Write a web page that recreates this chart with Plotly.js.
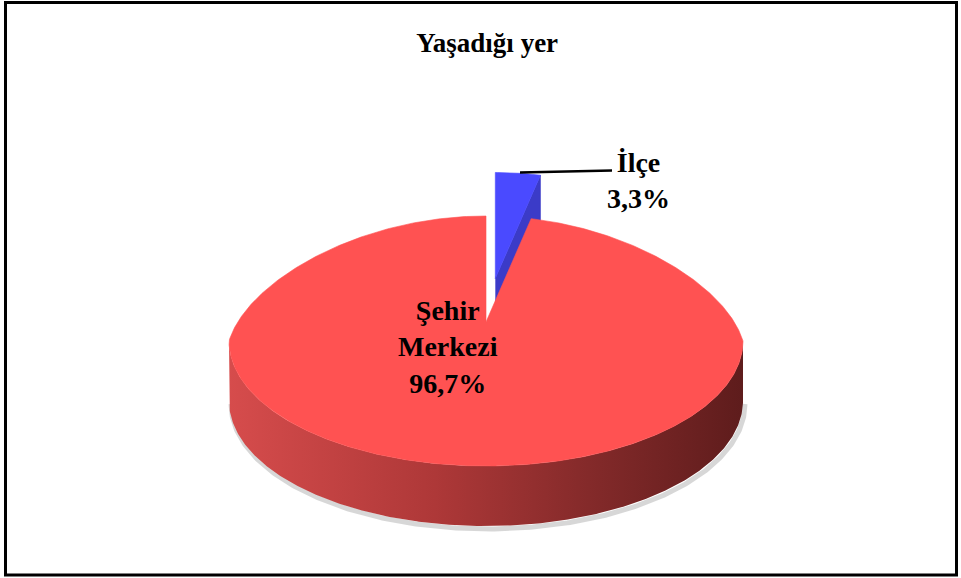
<!DOCTYPE html>
<html>
<head>
<meta charset="utf-8">
<script src="https://cdn.plot.ly/plotly-3.0.1.min.js"></script>
<style>html,body{margin:0;padding:0;background:#fff;}#chart{width:961px;height:578px;}</style>
</head>
<body>
<div id="chart"></div>
<script>
// ---- data ----
const categories = ['İlçe', 'Şehir Merkezi'];
const values = [3.3, 96.7];
const valueLabels = ['3,3%', '96,7%'];
const chartTitle = 'Yaşadığı yer';

// ---- styles / geometry ----
const topColors = ['#4A4AFF', '#FF5252'];
const sideColors = ['#3B3BC8', '#B03A3A'];
const wallGradients = [
  [[0,'#3B3BC8'],[1,'#22227A']],
  [[0,'#D64C4C'],[0.4,'#AE3838'],[0.7,'#842A2A'],[1,'#5E1C1C']]
];
const explode = [0.35, 0];
const CX = 486, CY = 341, A = 257, B = 125, DEPTH = 60, APEX_DY = -19, PERSP = 0.15;
const FONT = 'Times New Roman, Liberation Serif, serif';

function rimPt(t, off, dz) {
  const f = 1 - PERSP * Math.max(Math.cos(t), 0);
  return [CX + A * Math.sin(t) * f + off[0], CY - B * Math.cos(t) + off[1] + dz];
}
function apexPt(off, dz) { return [CX + off[0], CY + APEX_DY + off[1] + dz]; }
function arc(t0, t1, off, dz) {
  const pts = [];
  const n = Math.max(2, Math.ceil(Math.abs(t1 - t0) / 0.01));
  for (let k = 0; k <= n; k++) pts.push(rimPt(t0 + (t1 - t0) * k / n, off, dz));
  return pts;
}
function poly(pts, color, extra) {
  const tr = {
    type: 'scatter', mode: 'lines', fill: 'toself',
    x: pts.map(p => p[0]), y: pts.map(p => p[1]),
    line: {width: 0.6, color: color}, fillcolor: color,
    hoverinfo: 'skip', showlegend: false
  };
  return Object.assign(tr, extra || {});
}

const total = values.reduce((s, v) => s + v, 0);
const slices = [];
let cum = 0;
values.forEach((v, i) => {
  const t0 = cum / total * 2 * Math.PI;
  cum += v;
  const t1 = cum / total * 2 * Math.PI;
  const mid = (t0 + t1) / 2;
  const off = [explode[i] * A * Math.sin(mid), -explode[i] * B * Math.cos(mid)];
  slices.push({i, t0, t1, mid, off});
});
slices.sort((a, b) => Math.cos(b.mid) - Math.cos(a.mid));

const traces = [];
slices.forEach(s => {
  const {i, t0, t1, off} = s;
  // outer front wall
  const w0 = Math.max(t0, Math.PI / 2), w1 = Math.min(t1, 3 * Math.PI / 2);
  if (w1 > w0) {
    const topArc = arc(w0, w1, off, 0);
    const botArc = arc(w0, w1, off, DEPTH);
    // soft shadow
    const sh = botArc.map(p => [p[0] + 2, p[1] + 3]);
    traces.push({type:'scatter', mode:'lines', x: sh.map(p=>p[0]), y: sh.map(p=>p[1]),
      line:{width:5, color:'rgba(110,110,110,0.28)'}, hoverinfo:'skip', showlegend:false});
    const wall = topArc.concat(botArc.reverse());
    traces.push(poly(wall, sideColors[i], {fillgradient: {type: 'horizontal', colorscale: wallGradients[i]}, line:{width:0}}));
  }
  // radial faces
  if (t1 > 0 && t1 < Math.PI) {
    const r = rimPt(t1, off, 0), rb = rimPt(t1, off, DEPTH);
    traces.push(poly([apexPt(off, 0), r, rb, apexPt(off, DEPTH)], sideColors[i]));
  }
  if (t0 > Math.PI && t0 < 2 * Math.PI) {
    const r = rimPt(t0, off, 0), rb = rimPt(t0, off, DEPTH);
    traces.push(poly([apexPt(off, 0), r, rb, apexPt(off, DEPTH)], sideColors[i]));
  }
  // top face
  const top = [apexPt(off, 0)].concat(arc(t0, t1, off, 0));
  top.push(apexPt(off, 0));
  traces.push(poly(top, topColors[i]));
});

const annFont = {family: FONT, size: 28, color: '#000'};
const layout = {
  width: 961, height: 578,
  margin: {l: 0, r: 0, t: 0, b: 0},
  paper_bgcolor: '#fff', plot_bgcolor: '#fff',
  showlegend: false,
  title: {text: '<b>' + chartTitle + '</b>', x: 0.507, xanchor: 'center', xref: 'paper',
          y: 1 - 43 / 578, yref: 'container', yanchor: 'middle',
          font: {family: FONT, size: 27, color: '#000'}},
  xaxis: {range: [0, 961], visible: false, fixedrange: true},
  yaxis: {range: [578, 0], visible: false, fixedrange: true},
  shapes: [
    {type: 'rect', xref: 'x', yref: 'y', x0: 5.5, x1: 956.5, y0: 2.5, y1: 575, line: {color: '#000', width: 3}},
    {type: 'line', xref: 'x', yref: 'y', x0: 520, y0: 172.5, x1: 612, y1: 170.5, line: {color: '#000', width: 2.5}}
  ],
  annotations: [
    {x: 638, y: 180, xref: 'x', yref: 'y', showarrow: false, align: 'center',
     text: '<b>' + categories[0] + '<br>' + valueLabels[0] + '</b>', font: annFont},
    {x: 448, y: 347, xref: 'x', yref: 'y', showarrow: false, align: 'center',
     text: '<b>' + categories[1].replace(' ', '<br>') + '<br>' + valueLabels[1] + '</b>', font: annFont}
  ]
};
Plotly.newPlot('chart', traces, layout, {staticPlot: true, displayModeBar: false});
</script>
</body>
</html>
